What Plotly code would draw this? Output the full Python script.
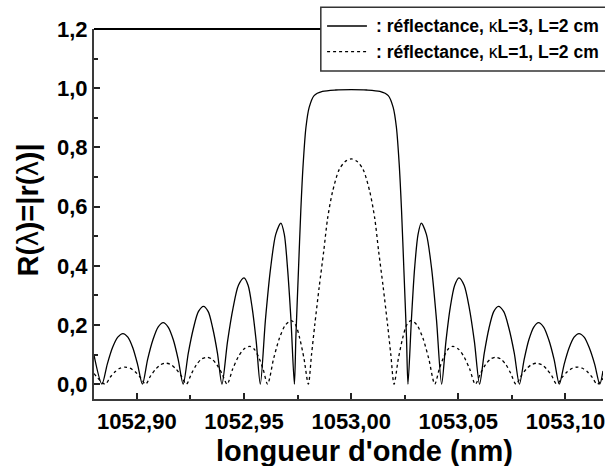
import plotly.graph_objects as go

# ---------------- data ----------------
wl_k3 = [1052.8800, 1052.8837, 1052.8862, 1052.8886, 1052.8911, 1052.8935, 1052.8958, 1052.8981, 1052.9003,
         1052.9026, 1052.9050, 1052.9075, 1052.9099, 1052.9123, 1052.9146, 1052.9170, 1052.9193,
         1052.9216, 1052.9240, 1052.9264, 1052.9287, 1052.9311, 1052.9333, 1052.9354, 1052.9376,
         1052.9397, 1052.9423, 1052.9449, 1052.9474, 1052.9500, 1052.9519, 1052.9538, 1052.9557,
         1052.9576, 1052.9600, 1052.9624, 1052.9648, 1052.9672, 1052.9688, 1052.9703, 1052.9719,
         1052.9735, 1052.9742, 1052.9754, 1052.9765, 1052.9776, 1052.9789, 1052.9804, 1052.9827,
         1052.9866, 1052.9928, 1053.0000, 1053.0072, 1053.0134, 1053.0173, 1053.0196, 1053.0211,
         1053.0224, 1053.0235, 1053.0246, 1053.0258, 1053.0265,
         1053.0281, 1053.0296, 1053.0312, 1053.0327, 1053.0351, 1053.0375, 1053.0398, 1053.0422,
         1053.0442, 1053.0462, 1053.0483, 1053.0503, 1053.0527, 1053.0551, 1053.0575, 1053.0599,
         1053.0621, 1053.0643, 1053.0665, 1053.0687, 1053.0712, 1053.0736, 1053.0761, 1053.0785,
         1053.0807, 1053.0829, 1053.0852, 1053.0874, 1053.0898, 1053.0922, 1053.0947, 1053.0971,
         1053.0994, 1053.1017, 1053.1040, 1053.1063, 1053.1087, 1053.1111, 1053.1136, 1053.1160,
         1053.1175]
r_k3 = [0.098, 0.0, 0.068, 0.123, 0.159, 0.171, 0.159, 0.123, 0.068,
        0.0, 0.083, 0.150, 0.193, 0.208, 0.193, 0.150, 0.083,
        0.0, 0.105, 0.189, 0.245, 0.263, 0.245, 0.189, 0.105,
        0.0, 0.144, 0.258, 0.334, 0.359, 0.334, 0.258, 0.144,
        0.0, 0.218, 0.392, 0.506, 0.544, 0.506, 0.392, 0.218,
        0.0, 0.16, 0.385, 0.587, 0.744, 0.868, 0.935, 0.975,
        0.989, 0.994, 0.995, 0.994, 0.989, 0.975, 0.935, 0.868,
        0.744, 0.587, 0.385, 0.16, 0.0,
        0.218, 0.392, 0.506, 0.544, 0.506, 0.392, 0.218, 0.0,
        0.144, 0.258, 0.334, 0.359, 0.334, 0.258, 0.144, 0.0,
        0.105, 0.189, 0.245, 0.263, 0.245, 0.189, 0.105, 0.0,
        0.083, 0.150, 0.193, 0.208, 0.193, 0.150, 0.083, 0.0,
        0.068, 0.123, 0.159, 0.171, 0.159, 0.123, 0.068, 0.0,
        0.045]

wl_k1 = [1052.8800, 1052.8852, 1052.8875, 1052.8898, 1052.8921, 1052.8944, 1052.8968, 1052.8992, 1052.9016,
         1052.9041, 1052.9064, 1052.9088, 1052.9111, 1052.9135, 1052.9159, 1052.9183, 1052.9207,
         1052.9231, 1052.9255, 1052.9278, 1052.9302, 1052.9326, 1052.9350, 1052.9373, 1052.9397,
         1052.9421, 1052.9447, 1052.9473, 1052.9500, 1052.9526, 1052.9547, 1052.9568, 1052.9589,
         1052.9610, 1052.9638, 1052.9665, 1052.9693, 1052.9721, 1052.9741, 1052.9760, 1052.9780,
         1052.9800, 1052.9815, 1052.9830, 1052.9851, 1052.9872, 1052.9890, 1052.9913, 1052.9944,
         1052.9972, 1053.0000, 1053.0028, 1053.0056, 1053.0087, 1053.0110, 1053.0128, 1053.0149,
         1053.0170, 1053.0185, 1053.0200,
         1053.0220, 1053.0240, 1053.0259, 1053.0279, 1053.0307, 1053.0335, 1053.0362, 1053.0390,
         1053.0411, 1053.0432, 1053.0453, 1053.0474, 1053.0500, 1053.0527, 1053.0553, 1053.0579,
         1053.0603, 1053.0627, 1053.0650, 1053.0674, 1053.0698, 1053.0722, 1053.0745, 1053.0769,
         1053.0793, 1053.0817, 1053.0841, 1053.0865, 1053.0889, 1053.0912, 1053.0936, 1053.0959,
         1053.0984, 1053.1008, 1053.1032, 1053.1056, 1053.1079, 1053.1102, 1053.1125, 1053.1148,
         1053.1175]
r_k1 = [0.036, 0.0, 0.023, 0.042, 0.054, 0.058, 0.054, 0.042, 0.023,
        0.0, 0.028, 0.051, 0.066, 0.071, 0.066, 0.051, 0.028,
        0.0, 0.036, 0.066, 0.085, 0.091, 0.085, 0.066, 0.036,
        0.0, 0.051, 0.092, 0.119, 0.128, 0.119, 0.092, 0.051,
        0.0, 0.086, 0.155, 0.200, 0.215, 0.200, 0.155, 0.086,
        0.0, 0.10, 0.20, 0.33, 0.45, 0.56, 0.65, 0.725,
        0.752, 0.761, 0.752, 0.725, 0.65, 0.56, 0.45, 0.33,
        0.20, 0.10, 0.0,
        0.086, 0.155, 0.200, 0.215, 0.200, 0.155, 0.086, 0.0,
        0.051, 0.092, 0.119, 0.128, 0.119, 0.092, 0.051, 0.0,
        0.036, 0.066, 0.085, 0.091, 0.085, 0.066, 0.036, 0.0,
        0.028, 0.051, 0.066, 0.071, 0.066, 0.051, 0.028, 0.0,
        0.023, 0.042, 0.054, 0.058, 0.054, 0.042, 0.023, 0.0,
        0.020]

x_tick_vals = [1052.90, 1052.95, 1053.00, 1053.05, 1053.10]
x_tick_labels = ["1052,90", "1052,95", "1053,00", "1053,05", "1053,10"]
y_tick_vals = [0.0, 0.2, 0.4, 0.6, 0.8, 1.0, 1.2]
y_tick_labels = ["0,0", "0,2", "0,4", "0,6", "0,8", "1,0", "1,2"]

GREEK = '<span style="font-weight:normal">{}</span>'
legend_labels = [": réflectance, " + GREEK.format("κ") + "L=3, L=2 cm",
                 ": réflectance, " + GREEK.format("κ") + "L=1, L=2 cm"]
x_title = "longueur d'onde (nm)"
y_title = "R(" + GREEK.format("λ") + ")=|r(" + GREEK.format("λ") + ")|"

# ---------------- layout geometry (pixels) ----------------
W, H = 605, 466
L, R, T, B = 94, 605, 29, 398.7
FONT = "Liberation Sans, Arial, sans-serif"


def px(x):
    return (x - L) / (R - L)


def py(y):
    return (B - y) / (B - T)


fig = go.Figure()
fig.add_trace(go.Scatter(x=wl_k3, y=r_k3, mode="lines", name="κL=3",
                         line=dict(color="black", width=1.3, shape="spline", smoothing=0.8),
                         showlegend=False))
fig.add_trace(go.Scatter(x=wl_k1, y=r_k1, mode="lines", name="κL=1",
                         line=dict(color="black", width=1.3, dash="dot", shape="spline", smoothing=0.8),
                         showlegend=False))

axis_common = dict(showgrid=False, zeroline=False, showline=True, linecolor="#3a3a3a", linewidth=2,
                   ticks="inside", ticklen=6, tickwidth=1.5, tickcolor="#222",
                   ticklabeloverflow="allow",
                   tickfont=dict(family=FONT, size=22, color="black", weight="bold"))

fig.update_layout(
    width=W, height=H,
    margin=dict(l=L, r=W - R, t=T, b=H - B, pad=0),
    paper_bgcolor="white", plot_bgcolor="white",
    xaxis=dict(range=[1052.8800, 1053.1175], tickmode="array", tickvals=x_tick_vals, ticktext=x_tick_labels,
               minor=dict(ticks="inside", ticklen=4, tickwidth=1.5, tickcolor="#222", dtick=0.025, tick0=1052.90),
               ticklabelstandoff=2, **axis_common),
    yaxis=dict(range=[-0.05, 1.2], tickmode="array", tickvals=y_tick_vals, ticktext=y_tick_labels,
               minor=dict(ticks="inside", ticklen=4, tickwidth=1.5, tickcolor="#222", dtick=0.1, tick0=0),
               ticklabelstandoff=0, **axis_common),
    showlegend=False,
)

shapes = []
# top frame line (up to the legend box)
shapes.append(dict(type="line", xref="paper", yref="paper", x0=0, x1=px(322), y0=1, y1=1,
                   line=dict(color="black", width=2)))
# legend box
shapes.append(dict(type="rect", xref="paper", yref="paper", x0=px(321.7), x1=px(640), y0=py(71), y1=py(7.3),
                   line=dict(color="#333", width=1.5), fillcolor="white", layer="above"))
shapes.append(dict(type="line", xref="paper", yref="paper", x0=px(328), x1=px(368), y0=py(26), y1=py(26),
                   line=dict(color="black", width=1.3), layer="above"))
shapes.append(dict(type="line", xref="paper", yref="paper", x0=px(328), x1=px(368), y0=py(51.7), y1=py(51.7),
                   line=dict(color="black", width=1.3, dash="dot"), layer="above"))
fig.update_layout(shapes=shapes)

annotations = [
    dict(text=legend_labels[0], xref="paper", yref="paper", x=px(375), y=py(26), xanchor="left", yanchor="middle",
         showarrow=False, font=dict(family=FONT, size=17.5, color="black", weight="bold")),
    dict(text=legend_labels[1], xref="paper", yref="paper", x=px(375), y=py(51.7), xanchor="left", yanchor="middle",
         showarrow=False, font=dict(family=FONT, size=17.5, color="black", weight="bold")),
    dict(text=x_title, xref="paper", yref="paper", x=px(366), y=py(451), xanchor="center", yanchor="middle",
         showarrow=False, font=dict(family=FONT, size=29, color="black", weight="bold")),
    dict(text=y_title, xref="paper", yref="paper", x=px(27.5), y=py(209.5), xanchor="center", yanchor="middle",
         textangle=-90, showarrow=False, font=dict(family=FONT, size=29, color="black", weight="bold")),
]
fig.update_layout(annotations=annotations)

fig.write_html("out.html")
